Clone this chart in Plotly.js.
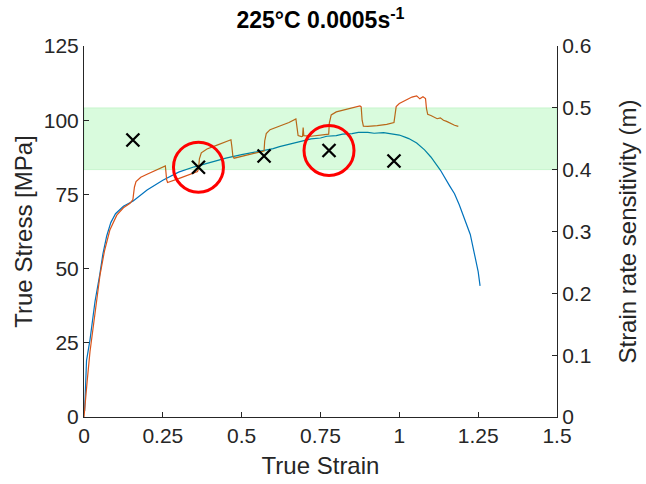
<!DOCTYPE html>
<html>
<head>
<meta charset="utf-8">
<script src="https://cdn.plot.ly/plotly-3.0.1.min.js"></script>
<style>
html,body{margin:0;padding:0;background:#fff;}
#chart{width:646px;height:484px;}
</style>
</head>
<body>
<div id="chart"></div>
<script>
// Constant-rate curve (blue)
const blueStrain = [0.002,0.004,0.008,0.019,0.035,0.05,0.06,0.072,0.085,0.1,0.125,0.156,0.2,0.25,0.3,0.35,0.4,0.45,0.5,0.55,0.6,0.62,0.64,0.65,0.67,0.7,0.72,0.75,0.77,0.8,0.82,0.85,0.87,0.9,0.92,0.95,0.97,1.0,1.02,1.03,1.055,1.08,1.1,1.13,1.16,1.175,1.19,1.21,1.225,1.24,1.25,1.256];
const blueStress = [2,10,19,26,39,48,55,61,65.5,68.5,71,72.8,76.5,79.8,82.5,84.3,85.8,87.2,88.4,89.3,90.4,91.1,91.6,92.0,92.6,93.2,93.7,94.0,94.6,94.8,95.3,95.5,95.9,95.9,95.6,95.8,95.4,95.0,94.2,93.8,92.3,90.0,87.6,83.2,77.8,75.2,71.5,66.0,61.5,54.0,49.0,44.2];

// Strain-rate jump test curve (orange)
const jumpStrain = [0.0,0.004,0.01,0.019,0.035,0.051,0.065,0.082,0.104,0.125,0.146,0.155,0.157,0.16,0.165,0.18,0.2,0.23,0.255,0.258,0.262,0.265,0.3,0.33,0.36,0.363,0.366,0.372,0.39,0.42,0.45,0.466,0.469,0.472,0.476,0.5,0.53,0.56,0.571,0.573,0.578,0.59,0.62,0.65,0.672,0.675,0.679,0.69,0.693,0.695,0.697,0.72,0.75,0.776,0.778,0.784,0.8,0.83,0.86,0.875,0.879,0.882,0.886,0.9,0.93,0.96,0.983,0.986,0.99,1.0,1.02,1.04,1.055,1.065,1.075,1.083,1.086,1.09,1.1,1.11,1.12,1.13,1.14,1.15,1.16,1.175,1.187];
const jumpStress = [0,4,12,22,36,48,56,63,68,70.5,72,73.2,75,77.5,79.3,80.8,81.8,83.3,84.6,84.6,80,79,80.3,81.4,82.7,83.5,87,89,90.3,91.5,92.6,93.4,91,88,87.2,87.8,88.6,89.3,89.6,93,95.5,96.8,98,99.2,100.4,97,94.8,94.5,94.6,97.5,94.8,94.6,95,95.3,99,101.8,102.8,103.6,104.2,104.8,104.5,100,98,97.9,98.2,98.6,99.2,102,104.6,105.6,106.8,107.8,108.2,107.2,107.9,107.3,104,102,101.6,100.9,100.5,100.8,100,99.6,99,98.3,97.9];

// Strain rate sensitivity (m) at each jump
const mStrain = [0.155,0.363,0.571,0.777,0.983];
const mValue = [0.448,0.404,0.422,0.431,0.414];
const circledIdx = [1,3];

// Highlighted m band
const bandM = [0.4,0.5];
const xRange = [0,1.5];

const font = 'Liberation Sans, Arial, Helvetica, sans-serif';
const axCol = '#262626';

const traces = [
  {x: blueStrain, y: blueStress, type:'scatter', mode:'lines', line:{color:'#0072BD', width:1.2}, hoverinfo:'skip'},
  {x: jumpStrain, y: jumpStress, type:'scatter', mode:'lines', line:{color:'#D95319', width:1.2}, hoverinfo:'skip'},
  {x: [xRange[0], xRange[1], xRange[1], xRange[0], xRange[0]],
   y: [bandM[0], bandM[0], bandM[1], bandM[1], bandM[0]],
   yaxis:'y2', type:'scatter', mode:'lines', fill:'toself',
   fillcolor:'rgba(0,230,30,0.15)', line:{color:'rgba(0,200,30,0.12)', width:1}, hoverinfo:'skip'},
  {x: mStrain, y: mValue, yaxis:'y2', type:'scatter', mode:'markers',
   marker:{symbol:'x-thin', size:13, color:'#000', line:{color:'#000', width:2.3}}},
  {x: circledIdx.map(i=>mStrain[i]), y: circledIdx.map(i=>mValue[i]), yaxis:'y2', type:'scatter', mode:'markers',
   marker:{symbol:'circle-open', size:50, color:'#ff0000', line:{color:'#ff0000', width:3}}}
];

const layout = {
  width:646, height:484,
  margin:{l:84, r:89, t:46, b:67},
  paper_bgcolor:'#fff', plot_bgcolor:'#fff',
  showlegend:false,
  font:{family:font, color:axCol, size:21},
  title:{text:'<b>225°C 0.0005s<sup>-1</sup></b>', x:0.5, xanchor:'center', xref:'paper', y:0.958, yanchor:'middle', font:{family:font, size:23, color:'#000'}},
  xaxis:{range:xRange, dtick:0.25, tick0:0, ticks:'inside', ticklen:5, tickcolor:axCol, showline:true, linecolor:axCol, linewidth:1,
         showgrid:false, zeroline:false, mirror:false, tickfont:{size:21, color:axCol},
         title:{text:'True Strain', font:{size:24, color:axCol}, standoff:10}},
  yaxis:{range:[0,125], dtick:25, tick0:0, ticks:'inside', ticklen:5, tickcolor:axCol, showline:true, linecolor:axCol, linewidth:1,
         showgrid:false, zeroline:false, tickfont:{size:21, color:axCol},
         title:{text:'True Stress [MPa]', font:{size:24, color:axCol}, standoff:4}},
  yaxis2:{range:[0,0.6], dtick:0.1, tick0:0, overlaying:'y', side:'right', ticks:'inside', ticklen:5, tickcolor:axCol,
          showline:true, linecolor:axCol, linewidth:1, showgrid:false, zeroline:false, tickfont:{size:21, color:axCol},
          title:{text:'Strain rate sensitivity (m)', font:{size:24, color:axCol}, standoff:28}}
};

Plotly.newPlot('chart', traces, layout, {displayModeBar:false, staticPlot:true});
</script>
</body>
</html>
